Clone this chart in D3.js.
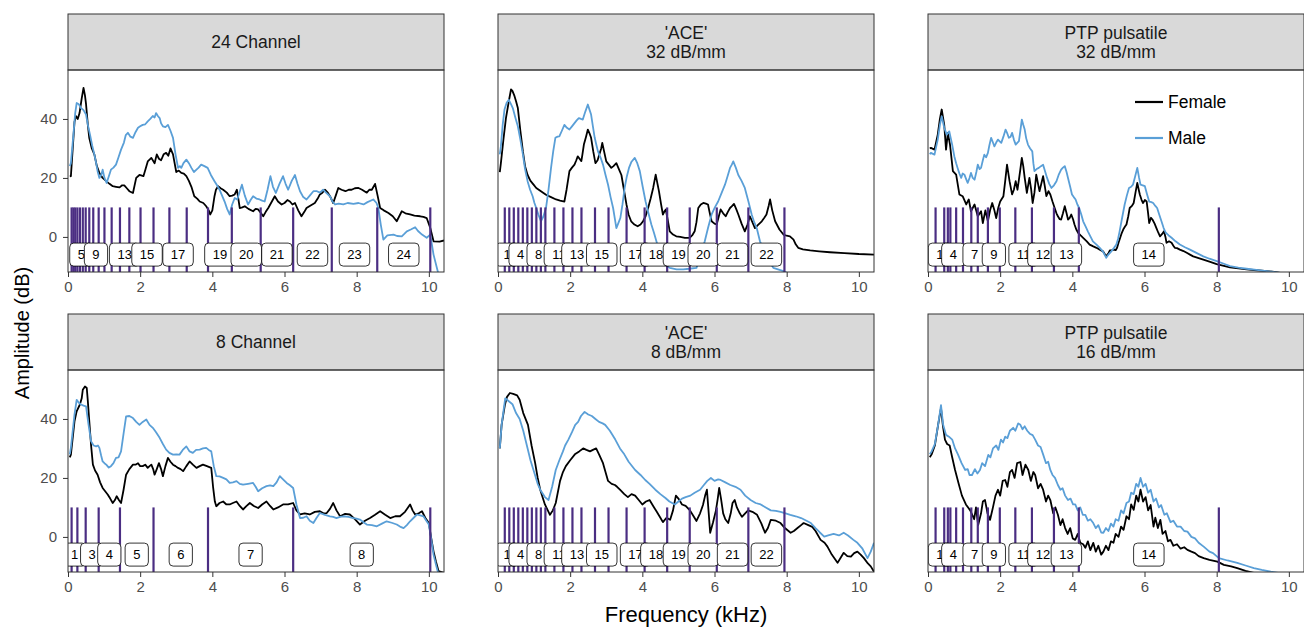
<!DOCTYPE html>
<html>
<head>
<meta charset="utf-8">
<script src="https://cdn.jsdelivr.net/npm/d3@7"></script>
<style>
body { margin: 0; background: #fff; }
text { font-family: "Liberation Sans", Arial, sans-serif; }
</style>
</head>
<body>
<svg id="chart" width="1304" height="627"></svg>
<script>
// ---- data: [frequency kHz, amplitude dB] ----
var ch24Female = [[0.05,20.5],[0.08,20.6],[0.18,39],[0.22,41],[0.27,40],[0.32,42],[0.38,47],[0.43,50.5],[0.47,48],[0.5,45],[0.55,38],[0.59,33.5],[0.66,30],[0.73,28],[0.8,24],[0.87,21.7],[0.96,20],[1.06,18.9],[1.15,18],[1.24,17.2],[1.33,17],[1.43,16.8],[1.5,17.5],[1.56,17.5],[1.63,16.5],[1.7,15.5],[1.8,14.9],[1.89,20],[1.98,21],[2.09,20.6],[2.15,23],[2.21,25.6],[2.31,26.8],[2.4,25],[2.46,28],[2.52,26.5],[2.58,26],[2.65,28],[2.72,28.5],[2.78,27.5],[2.84,30],[2.91,28],[3.0,22],[3.07,22.5],[3.14,21.7],[3.21,21.5],[3.28,20.6],[3.35,19],[3.42,17],[3.5,13.8],[3.58,13],[3.65,12],[3.75,11.5],[3.83,10.4],[3.9,9],[3.94,7.6],[4.0,9],[4.06,13.8],[4.1,16],[4.16,17.2],[4.23,16.5],[4.3,16],[4.4,15],[4.48,13.8],[4.55,14],[4.62,14.4],[4.68,16],[4.72,13],[4.76,9.8],[4.83,10],[4.9,10.4],[5.0,9.5],[5.13,8.7],[5.2,9.5],[5.27,9.3],[5.35,8],[5.41,7],[5.48,8.5],[5.55,9.8],[5.65,12],[5.73,13.8],[5.82,12],[5.92,11],[6.0,11.5],[6.08,12.5],[6.15,12],[6.22,11],[6.29,11.5],[6.38,9],[6.47,7],[6.55,8.5],[6.61,9.8],[6.7,10.5],[6.84,11.5],[6.92,13],[6.98,14.4],[7.05,15],[7.12,16],[7.2,15],[7.26,13.8],[7.35,11.5],[7.42,14],[7.49,16.6],[7.58,16],[7.69,15.5],[7.78,16],[7.86,16],[7.95,16.5],[8.05,16.6],[8.15,16],[8.28,15],[8.35,16],[8.42,16],[8.51,18],[8.58,14],[8.65,9.8],[8.75,9],[8.88,8.1],[9.0,7],[9.11,5.3],[9.18,7],[9.25,8.7],[9.35,8],[9.48,7.6],[9.6,7.2],[9.76,7],[9.85,6.8],[9.94,6.4],[10.04,3],[10.13,-1.5],[10.3,-1.6],[10.42,-1.2]];
var ch24Male = [[0.05,24],[0.08,25],[0.15,34.7],[0.2,42],[0.24,45.4],[0.3,45],[0.36,43.7],[0.43,43],[0.5,41.5],[0.55,38],[0.61,34.7],[0.67,31],[0.73,28],[0.78,25],[0.82,22.3],[0.87,20],[0.92,21],[0.96,22.8],[1.01,20],[1.07,18.3],[1.13,20.5],[1.19,22.8],[1.26,23.5],[1.33,24.5],[1.4,27],[1.47,29.6],[1.55,32],[1.6,34.5],[1.66,35.3],[1.73,34],[1.8,33.6],[1.87,35.5],[1.94,37],[2.0,37.5],[2.07,38],[2.14,38.2],[2.21,39.2],[2.28,40],[2.35,41],[2.4,40.5],[2.44,42],[2.49,41],[2.54,40.3],[2.58,38.5],[2.63,37.5],[2.7,37.2],[2.77,38],[2.84,36],[2.91,33.6],[2.98,28],[3.05,23.4],[3.1,24],[3.14,23.4],[3.2,25],[3.28,26.2],[3.35,25],[3.42,23.4],[3.49,22],[3.56,22.8],[3.62,23.5],[3.69,24.5],[3.78,24],[3.87,23.4],[3.96,21],[4.06,18.9],[4.13,17.5],[4.2,16],[4.27,14],[4.34,12],[4.41,9.5],[4.48,7.6],[4.55,11],[4.62,13.2],[4.69,12.7],[4.75,15],[4.82,17.7],[4.9,14],[4.99,11],[5.06,12.5],[5.13,13.8],[5.22,13],[5.31,12.7],[5.38,12.3],[5.45,12],[5.53,16],[5.61,20.6],[5.68,17],[5.76,14.9],[5.86,18],[5.96,20.6],[6.03,18],[6.1,16],[6.2,19],[6.29,21],[6.36,18],[6.43,15.5],[6.52,13.5],[6.61,12.7],[6.7,14],[6.8,15.5],[6.9,15.5],[6.98,15],[7.07,16],[7.15,15],[7.26,13.8],[7.33,12],[7.4,11],[7.5,11.3],[7.63,11],[7.75,11.5],[7.91,11.2],[8.05,11.5],[8.19,11],[8.3,11.8],[8.46,12.7],[8.55,11.5],[8.6,9.8],[8.67,4],[8.74,-0.9],[8.85,0.5],[9.02,0.8],[9.12,0.3],[9.25,0.2],[9.32,1],[9.39,1.9],[9.5,2.5],[9.62,3.3],[9.7,2],[9.81,0.8],[9.94,-0.3],[10.04,0.8],[10.13,-6],[10.27,-12.8]];

var ace32Female = [[0.05,22],[0.08,25],[0.15,33],[0.22,40.3],[0.3,46],[0.36,50],[0.4,49.5],[0.45,48],[0.5,46],[0.55,43.7],[0.62,36],[0.69,29],[0.75,24],[0.82,21],[0.9,19],[0.98,17.8],[1.06,16.6],[1.2,15.4],[1.33,14.3],[1.47,13.5],[1.61,12.7],[1.72,12.3],[1.84,12],[1.9,16],[1.98,22.3],[2.05,23.5],[2.12,24.5],[2.17,26],[2.21,27.3],[2.26,26.5],[2.31,25.7],[2.34,28],[2.38,31.3],[2.44,34],[2.49,36.4],[2.54,35],[2.58,33.6],[2.64,29],[2.7,25],[2.76,26],[2.81,28],[2.86,30],[2.89,31.9],[2.94,29],[3.0,25.6],[3.07,24.5],[3.14,23.4],[3.2,24],[3.28,25],[3.35,23],[3.42,21],[3.49,16],[3.56,11],[3.62,7.5],[3.69,5.3],[3.78,4.2],[3.87,3.6],[3.95,4.2],[4.02,5.3],[4.09,7],[4.16,9.8],[4.23,13],[4.3,16.6],[4.37,21.1],[4.42,18],[4.46,15.5],[4.52,11],[4.57,7.6],[4.62,8.8],[4.65,9.3],[4.7,6],[4.76,1.9],[4.85,0.8],[4.94,0.2],[5.05,0],[5.18,-0.3],[5.31,-0.3],[5.38,0.5],[5.45,1.9],[5.5,5],[5.55,9.8],[5.62,11],[5.69,11.5],[5.76,11.3],[5.82,11],[5.87,8],[5.92,5.3],[6.0,4.5],[6.06,4.2],[6.12,7],[6.17,9.3],[6.24,8],[6.31,7],[6.37,8.5],[6.43,9.8],[6.49,10.5],[6.54,11.2],[6.6,9.5],[6.66,7.6],[6.75,4.5],[6.84,1.9],[6.91,4],[6.98,7],[7.05,5],[7.12,3],[7.2,4],[7.31,5.3],[7.38,6.5],[7.44,7.6],[7.5,10.5],[7.54,12.7],[7.6,9],[7.68,5.3],[7.8,2.5],[7.91,0.8],[8.0,0.4],[8.09,0.2],[8.19,-0.9],[8.25,-2.5],[8.32,-3.7],[8.45,-4.2],[8.65,-4.6],[8.9,-4.9],[9.2,-5.2],[9.6,-5.5],[10.0,-5.8],[10.42,-6]];
var ace32Male = [[0.05,28],[0.08,30.7],[0.13,38],[0.18,43.2],[0.24,45.5],[0.3,46.5],[0.36,45],[0.41,43.7],[0.48,40.5],[0.55,37.5],[0.62,33],[0.69,28],[0.75,23],[0.82,18.9],[0.89,16],[0.96,13.8],[1.01,11.5],[1.06,9.8],[1.12,7.5],[1.19,5.3],[1.26,7],[1.33,9.8],[1.4,16],[1.47,23.4],[1.53,29],[1.59,33.6],[1.65,34],[1.7,34.1],[1.77,36],[1.84,38],[1.91,37],[1.98,36.4],[2.05,37.5],[2.12,38.6],[2.18,39.5],[2.24,40.3],[2.3,40],[2.35,39.8],[2.42,42.5],[2.49,44.9],[2.54,43],[2.58,41.5],[2.63,37.5],[2.68,33.6],[2.73,31],[2.77,29],[2.84,27],[2.91,24.5],[2.98,21],[3.05,17.7],[3.12,13.5],[3.19,9.8],[3.24,6],[3.28,3],[3.33,4.5],[3.39,6.4],[3.45,11],[3.51,16.6],[3.57,20.5],[3.63,23.4],[3.7,25.5],[3.79,26.8],[3.86,25],[3.93,22.3],[4.01,17],[4.09,12],[4.17,8],[4.25,4.2],[4.32,1.5],[4.39,-1.5],[4.46,-4.5],[4.53,-7],[4.65,-9.5],[4.76,-10.5],[4.95,-11],[5.13,-11],[5.3,-10.8],[5.5,-10.5],[5.62,-6],[5.73,-1.5],[5.82,3],[5.92,7.6],[6.01,10],[6.1,12],[6.2,15],[6.29,17.7],[6.36,20.5],[6.43,23.4],[6.48,24.5],[6.52,25.6],[6.59,23.5],[6.66,21],[6.75,19],[6.84,16.6],[6.94,12],[7.03,7.6],[7.1,5],[7.17,3],[7.26,-1.5],[7.35,-4],[7.44,-6],[7.53,-8.5],[7.63,-10.5],[7.91,-11.6],[8.09,-12.7],[8.3,-13]];

var ptp32Female = [[0.05,30],[0.08,30.2],[0.18,29.6],[0.27,34.7],[0.33,40],[0.38,43.2],[0.45,38],[0.5,29.6],[0.55,35.3],[0.61,31.3],[0.69,22.3],[0.78,21.1],[0.87,14.4],[0.96,13.8],[1.06,11],[1.13,12.7],[1.19,8.7],[1.29,11],[1.38,7],[1.47,8.7],[1.52,4.7],[1.59,9],[1.66,5.3],[1.72,9],[1.78,11.5],[1.84,9],[1.89,6.4],[1.95,10],[2.0,12],[2.09,13.8],[2.14,19],[2.19,24.5],[2.26,18.9],[2.33,14.4],[2.38,16],[2.43,18.9],[2.48,16],[2.52,19.4],[2.56,23],[2.6,26.8],[2.64,24],[2.68,20],[2.74,14.9],[2.81,20],[2.86,16],[2.9,11.5],[2.95,15],[3.0,21.1],[3.05,18],[3.09,15.5],[3.14,18],[3.19,20.6],[3.24,17],[3.28,13.8],[3.34,15.5],[3.39,14.4],[3.45,12],[3.51,9.8],[3.56,8],[3.6,7],[3.65,6],[3.69,5.9],[3.74,8],[3.79,10.4],[3.84,8],[3.88,5.9],[3.93,6.5],[3.97,7.6],[4.02,6],[4.06,4.2],[4.11,2.5],[4.16,1.4],[4.23,0.5],[4.3,-0.3],[4.4,-1.5],[4.48,-2.6],[4.58,-3.2],[4.67,-3.7],[4.76,-4.3],[4.85,-4.9],[4.94,-6.6],[5.0,-5.5],[5.04,-4.6],[5.1,-4.5],[5.15,-4.3],[5.2,-4.5],[5.24,-3.7],[5.28,-2],[5.31,-0.9],[5.36,1],[5.41,2.5],[5.46,3.5],[5.5,4.2],[5.55,7],[5.59,9.8],[5.65,10.5],[5.7,11.5],[5.75,15],[5.8,18.3],[5.84,16],[5.87,14.4],[5.92,12.5],[5.96,11.5],[6.01,12.5],[6.06,12],[6.1,8],[6.13,4.7],[6.18,6.5],[6.22,5.9],[6.28,4.5],[6.33,3],[6.38,1.5],[6.43,0.2],[6.49,1],[6.54,1.9],[6.58,0],[6.61,-2],[6.68,-1.5],[6.75,-2],[6.8,-3],[6.84,-3.7],[6.9,-3.8],[6.98,-4.3],[7.08,-4.8],[7.17,-5.4],[7.26,-6],[7.35,-6.6],[7.5,-7.2],[7.63,-7.7],[7.8,-8.4],[8.0,-9.2],[8.2,-9.8],[8.37,-10.3],[8.6,-10.7],[8.83,-11],[9.1,-11.3],[9.39,-11.6],[9.6,-11.9],[9.76,-12.2],[10.1,-12.8],[10.42,-13.2]];
var ptp32Male = [[0.05,28],[0.08,28.5],[0.18,27.9],[0.27,33],[0.33,38],[0.38,40.9],[0.45,37],[0.52,34.7],[0.59,35.8],[0.67,31.3],[0.73,27.3],[0.78,25],[0.82,23.4],[0.87,21.5],[0.92,20],[0.96,21.5],[1.01,21.1],[1.06,19.5],[1.1,18.3],[1.15,20],[1.19,21.7],[1.24,20],[1.29,19.4],[1.34,22],[1.38,24.5],[1.43,23],[1.47,23.4],[1.52,26],[1.56,27.9],[1.61,27],[1.66,28.5],[1.7,31],[1.75,33.6],[1.8,32],[1.84,30.7],[1.89,32],[1.94,33],[1.98,32.5],[2.03,31.9],[2.09,34],[2.15,36.4],[2.2,35],[2.24,33.6],[2.29,34],[2.33,35.3],[2.38,33],[2.43,31.3],[2.48,32],[2.52,32.5],[2.56,36],[2.6,39.8],[2.64,38],[2.68,36.4],[2.72,33.5],[2.77,31.3],[2.83,30],[2.89,29],[2.92,25],[2.95,22.3],[3.01,23],[3.07,23.4],[3.13,24],[3.19,24.5],[3.25,22],[3.3,20],[3.36,18],[3.42,16.6],[3.49,17.5],[3.56,18.9],[3.62,21],[3.69,22.8],[3.74,23.5],[3.79,24],[3.84,22],[3.88,20],[3.94,17],[3.99,14.4],[4.04,13.5],[4.09,12.7],[4.14,11],[4.19,9.8],[4.25,7.5],[4.3,5.3],[4.37,3.5],[4.43,1.9],[4.5,0.2],[4.57,-1.5],[4.67,-2.6],[4.76,-3.7],[4.85,-5],[4.94,-7.1],[5.0,-6],[5.08,-4.9],[5.15,-3.8],[5.22,-2.6],[5.27,-0.5],[5.31,1.9],[5.38,6.5],[5.45,11],[5.51,14],[5.57,16.6],[5.63,17],[5.68,17.7],[5.74,20.5],[5.8,23.4],[5.85,20],[5.89,17.7],[5.95,17.5],[6.01,17.2],[6.07,14.5],[6.13,12],[6.19,11.8],[6.24,11.5],[6.3,10.5],[6.35,9.8],[6.41,7.5],[6.47,5.3],[6.53,3],[6.59,1.4],[6.67,0.5],[6.75,-0.3],[6.86,-1.5],[6.98,-2.6],[7.12,-3.5],[7.26,-4.3],[7.45,-5.5],[7.63,-6.6],[7.8,-7.4],[8.0,-8.2],[8.2,-9.1],[8.37,-9.9],[8.6,-10.4],[8.83,-10.8],[9.1,-11.2],[9.39,-11.6],[9.7,-12.1],[9.94,-12.5],[10.3,-13.3]];

var ch8Female = [[0.05,27],[0.08,27.9],[0.18,39.2],[0.24,42.6],[0.33,44.9],[0.38,47],[0.41,49.9],[0.47,51],[0.52,50.5],[0.55,46],[0.59,39.2],[0.64,31],[0.69,24.5],[0.75,22.5],[0.82,21.1],[0.89,18.5],[0.96,16.6],[1.03,15.5],[1.1,14.4],[1.17,13],[1.24,11.5],[1.3,12.5],[1.35,13.8],[1.41,12.5],[1.47,11.5],[1.54,16],[1.61,21.1],[1.7,23],[1.8,24.5],[1.87,24.5],[1.94,25],[2.0,24],[2.07,24],[2.14,24.5],[2.21,23.4],[2.26,24],[2.31,24.5],[2.36,23],[2.4,21.1],[2.46,23],[2.52,25],[2.58,23],[2.63,20.6],[2.7,24],[2.77,26.8],[2.84,25.5],[2.91,24.5],[2.98,24],[3.05,23.4],[3.12,23],[3.19,22.3],[3.28,24],[3.37,25.6],[3.46,24.5],[3.56,23.4],[3.65,24],[3.74,24.5],[3.85,24],[3.97,23.4],[4.02,17],[4.07,12],[4.11,10.4],[4.2,11.5],[4.3,12],[4.39,11],[4.48,11],[4.57,11.5],[4.67,12],[4.76,10.5],[4.85,9.3],[4.95,10.5],[5.04,11.5],[5.15,10.5],[5.27,9.8],[5.38,11],[5.5,12],[5.6,10.5],[5.69,9.3],[5.82,10],[5.96,11],[6.1,11],[6.24,11.5],[6.33,9],[6.43,7.6],[6.56,8],[6.7,7.6],[6.84,8.5],[6.98,8.7],[7.08,8],[7.17,8.1],[7.26,9.5],[7.35,11.5],[7.44,9],[7.54,7],[7.68,7.8],[7.81,7.6],[7.95,6],[8.09,4.2],[8.23,5.5],[8.37,6.4],[8.51,7.5],[8.65,8.7],[8.79,7.5],[8.93,6.4],[9.07,7],[9.2,7],[9.34,8.5],[9.48,11],[9.55,9],[9.62,7.6],[9.72,8],[9.81,8.7],[9.9,6.5],[10.0,4.7],[10.06,0],[10.13,-4.9],[10.2,-8.5],[10.27,-11.6],[10.42,-12.2]];
var ch8Male = [[0.05,28],[0.08,30.2],[0.18,41.5],[0.24,46.5],[0.3,45.5],[0.36,44.9],[0.43,44.5],[0.5,44.3],[0.57,38],[0.64,32.4],[0.71,31],[0.78,30.7],[0.83,31],[0.87,30.2],[0.92,27.5],[0.96,25.6],[1.01,25],[1.06,24.5],[1.13,23.5],[1.19,24],[1.26,25],[1.33,26.8],[1.4,27],[1.47,29],[1.54,35],[1.61,40.9],[1.7,41],[1.8,40.3],[1.89,39],[1.98,38],[2.07,39],[2.17,39.8],[2.26,38],[2.35,37],[2.44,35.5],[2.54,33.6],[2.63,31.5],[2.72,29.6],[2.81,28.5],[2.91,27.9],[3.0,28],[3.09,27.9],[3.18,29.5],[3.28,30.7],[3.37,29],[3.46,28.5],[3.55,29.5],[3.65,29.6],[3.74,30],[3.83,30.2],[3.9,29.5],[3.97,29],[4.04,24],[4.11,20.6],[4.2,20.5],[4.3,20],[4.39,19.5],[4.48,18.3],[4.57,18.5],[4.67,18.9],[4.76,18],[4.85,17.7],[4.99,18],[5.13,18.3],[5.2,17],[5.27,15.5],[5.38,16.5],[5.5,17.2],[5.6,17.5],[5.69,17.2],[5.78,18.5],[5.87,20.6],[5.96,19.5],[6.06,18.3],[6.15,17.5],[6.24,16.6],[6.33,11],[6.43,6.4],[6.52,6.5],[6.61,7],[6.7,5.5],[6.8,4.7],[6.89,6.5],[6.98,8.1],[7.12,7.5],[7.26,7],[7.35,6.8],[7.44,6.4],[7.54,6.8],[7.63,7],[7.77,6.8],[7.91,6.4],[8.0,6.2],[8.09,5.9],[8.19,5],[8.28,4.2],[8.42,4],[8.56,3.6],[8.7,4.5],[8.83,5.3],[8.97,4.8],[9.11,4.2],[9.2,3.5],[9.3,3],[9.39,4],[9.48,5.3],[9.58,6.5],[9.67,7.6],[9.76,7.3],[9.85,7],[9.93,5.5],[10.0,4.2],[10.07,-1],[10.13,-6],[10.2,-9.5],[10.27,-12.8]];

var ace8Female = [[0.05,30],[0.1,38],[0.19,44.7],[0.25,47.5],[0.33,48.8],[0.42,48.5],[0.53,48],[0.6,46.5],[0.7,42],[0.83,38],[0.93,31],[1.03,25],[1.1,20],[1.17,16],[1.3,11],[1.38,9],[1.44,7.5],[1.52,9],[1.6,11.5],[1.72,19],[1.8,22],[1.88,24],[2.0,26],[2.13,28],[2.25,29],[2.36,30],[2.45,29.5],[2.55,29],[2.63,29.5],[2.72,30],[2.8,28],[2.91,25],[3.05,19],[3.15,18],[3.24,17.6],[3.3,17],[3.38,16],[3.5,14.5],[3.6,13.5],[3.7,14.5],[3.8,14],[3.9,12.5],[4.0,11],[4.1,12],[4.2,12.5],[4.3,10.5],[4.4,8.5],[4.5,6.5],[4.57,5],[4.67,6.5],[4.77,5.8],[4.85,9],[4.93,14],[5.0,13],[5.1,11],[5.2,10.5],[5.32,9],[5.42,7],[5.5,5.4],[5.6,8],[5.68,10.8],[5.74,14],[5.79,16],[5.84,8],[5.88,1.4],[5.96,5],[6.04,9],[6.09,13],[6.13,16.6],[6.18,13],[6.24,8],[6.3,6],[6.38,4.7],[6.45,8],[6.5,11.5],[6.56,12.5],[6.62,10],[6.7,8],[6.76,6.8],[6.85,8],[6.93,9],[7.05,8.5],[7.18,7.5],[7.3,4.5],[7.4,1.4],[7.48,3],[7.56,5.8],[7.7,5.5],[7.83,4.7],[7.95,3],[8.11,1.4],[8.2,2],[8.3,3],[8.4,4],[8.47,4.7],[8.6,4],[8.71,3.4],[8.8,2],[8.94,-1],[9.05,-2],[9.13,-3.3],[9.25,-6],[9.41,-8.8],[9.5,-7],[9.58,-5.4],[9.68,-6.5],[9.78,-6.7],[9.87,-5.5],[9.96,-5],[10.05,-6],[10.14,-7.2],[10.25,-9],[10.33,-10],[10.42,-11.8]];
var ace8Male = [[0.05,30],[0.1,38],[0.2,47],[0.3,46],[0.4,45],[0.5,42],[0.6,40],[0.7,36],[0.8,31],[0.9,26],[1.0,22],[1.1,18],[1.17,16],[1.3,13.5],[1.4,12.5],[1.5,17],[1.6,22.7],[1.7,26],[1.8,29],[1.86,31],[1.95,33],[2.05,35.5],[2.14,38],[2.22,39],[2.3,41],[2.4,42.4],[2.5,41.5],[2.6,41],[2.7,40],[2.8,39],[2.9,38.5],[2.97,38],[3.1,36],[3.25,33],[3.38,30],[3.5,28],[3.62,25.5],[3.8,22.7],[3.95,21],[4.08,19.3],[4.2,18],[4.36,16],[4.5,14.5],[4.64,13.2],[4.75,12],[4.9,11],[5.0,12],[5.1,13],[5.2,13.5],[5.33,14],[5.45,15],[5.6,16],[5.7,17.5],[5.8,19],[5.9,20],[6.0,19],[6.1,19.5],[6.17,19.3],[6.3,18.5],[6.44,17.6],[6.58,17],[6.72,16],[6.85,14],[7.0,12.5],[7.14,11.5],[7.28,11],[7.42,10],[7.56,9],[7.7,8.8],[7.83,8.5],[7.97,8],[8.1,7.5],[8.25,7],[8.4,6.4],[8.55,5.5],[8.67,4.7],[8.8,3],[8.92,1.5],[9.04,0.1],[9.15,0.5],[9.3,1],[9.45,0.5],[9.58,1.4],[9.7,0.5],[9.85,-1],[9.96,-2],[10.1,-4],[10.24,-7.2],[10.33,-5],[10.42,-2]];

var ptp16Female = [[0.05,27],[0.1,28],[0.19,31],[0.28,38],[0.36,43.7],[0.41,38],[0.47,33],[0.53,31.5],[0.6,31],[0.67,27],[0.75,22.7],[0.85,18],[0.94,14],[1.05,11],[1.17,9],[1.28,6],[1.33,10],[1.39,4],[1.47,8],[1.52,12],[1.58,12.5],[1.65,8],[1.72,5.8],[1.8,10],[1.87,14],[1.94,16],[2.0,14],[2.07,19],[2.14,19.3],[2.2,17],[2.27,22],[2.33,22.7],[2.4,20],[2.47,25],[2.56,25.4],[2.62,21],[2.7,24.5],[2.78,22.7],[2.85,19],[2.92,22],[2.97,21],[3.05,16.5],[3.12,18],[3.19,16],[3.27,12],[3.33,14],[3.39,12.5],[3.47,8],[3.53,10],[3.6,7.5],[3.67,4],[3.73,6],[3.8,3],[3.87,1],[3.94,3],[4.01,-0.5],[4.08,-1],[4.15,1],[4.22,-2],[4.3,-2.5],[4.36,-3.7],[4.43,-1.5],[4.5,-4.5],[4.58,-2],[4.65,-5],[4.72,-3],[4.8,-6],[4.86,-5],[4.93,-3],[5.0,-4.5],[5.07,-1.5],[5.14,-2],[5.2,1],[5.28,0],[5.35,3.5],[5.42,2.4],[5.5,7],[5.57,6],[5.63,11],[5.7,9.2],[5.77,14],[5.83,12],[5.89,16],[5.96,12],[6.03,13.5],[6.1,9],[6.17,10.8],[6.25,3.5],[6.3,6.5],[6.37,3],[6.44,5.8],[6.5,1],[6.58,2],[6.65,-1.5],[6.72,-1],[6.8,-3],[6.9,-2.5],[7.0,-4],[7.1,-3.5],[7.19,-4.4],[7.3,-5],[7.4,-5.5],[7.5,-6.5],[7.64,-7.2],[7.8,-7.8],[8.02,-8.4],[8.2,-9.5],[8.4,-10],[8.57,-10.6],[8.8,-11.5],[9.03,-12.2],[9.3,-13]];
var ptp16Male = [[0.05,28],[0.1,29],[0.19,31.5],[0.28,38],[0.36,44.7],[0.42,38],[0.5,34.6],[0.58,34],[0.67,33],[0.75,30],[0.83,28],[0.93,25],[1.03,22.7],[1.1,23],[1.15,21],[1.22,21],[1.3,23],[1.37,21.5],[1.44,22.7],[1.5,25],[1.58,24],[1.67,27.8],[1.73,27],[1.8,30],[1.89,31],[1.95,29.5],[2.02,33],[2.08,32],[2.14,34],[2.2,33.5],[2.27,36],[2.36,37],[2.42,36],[2.5,38.5],[2.56,38],[2.62,36.5],[2.68,37.5],[2.75,36],[2.82,35],[2.9,34.5],[2.97,33],[3.05,31],[3.12,30.5],[3.19,28],[3.27,25],[3.33,25.5],[3.39,22.7],[3.45,21],[3.52,20],[3.6,17.6],[3.67,16],[3.73,16.5],[3.8,14],[3.88,12.5],[3.95,13],[4.02,11],[4.08,11],[4.15,9],[4.22,10],[4.29,7.5],[4.36,7.5],[4.43,5.5],[4.5,6],[4.58,4.7],[4.65,3],[4.72,4],[4.8,1.5],[4.86,1.4],[4.93,3],[5.0,2],[5.07,4.5],[5.14,3.5],[5.2,6],[5.28,5.5],[5.35,9],[5.42,8],[5.5,11.5],[5.57,12],[5.63,15],[5.7,14.5],[5.77,18],[5.83,17],[5.89,20],[5.96,17],[6.03,18],[6.1,15],[6.17,16],[6.25,12],[6.32,13],[6.4,10],[6.46,10.8],[6.55,7.5],[6.62,8],[6.72,5],[6.8,5.5],[6.9,3.5],[7.0,3.5],[7.1,2],[7.19,1.8],[7.3,0],[7.4,-0.5],[7.5,-2],[7.64,-3.3],[7.8,-5],[7.9,-5.5],[8.06,-7.2],[8.3,-8],[8.57,-8.8],[8.8,-9.7],[9.03,-10.6],[9.25,-11.2],[9.5,-11.8],[9.75,-12.3],[9.96,-12.9]];

// channel boundaries (kHz) and which channel numbers get a label
var bounds24 = [0.10,0.15,0.20,0.26,0.33,0.41,0.49,0.59,0.70,0.85,1.01,1.21,1.44,1.70,2.01,2.37,2.81,3.29,3.88,4.54,5.34,6.24,7.31,8.57,10.04];
var bounds8 = [0.10,0.26,0.49,0.85,1.44,2.37,3.88,6.24,10.04];
var boundsAce = [0.188,0.313,0.438,0.563,0.688,0.813,0.938,1.063,1.188,1.313,1.563,1.813,2.063,2.313,2.688,3.063,3.563,4.063,4.688,5.313,6.063,6.938,7.938];
var boundsPtp = [0.21,0.45,0.55,0.62,0.78,0.97,1.20,1.38,1.66,1.99,2.42,2.88,3.49,4.18,8.06];
var labels24 = [5,9,13,15,17,19,20,21,22,23,24];
var labels8 = [1,3,4,5,6,7,8];
var labelsAce = [1,4,8,11,13,15,17,18,19,20,21,22];
var labelsPtp = [1,4,7,9,11,12,13,14];

var xTicks = [0, 2, 4, 6, 8, 10];
var yTicks = [0, 20, 40];

var panels = [
  {title: ["24 Channel"], female: ch24Female, male: ch24Male, bounds: bounds24, labels: labels24, row: 0, col: 0},
  {title: ["'ACE'", "32 dB/mm"], female: ace32Female, male: ace32Male, bounds: boundsAce, labels: labelsAce, row: 0, col: 1},
  {title: ["PTP pulsatile", "32 dB/mm"], female: ptp32Female, male: ptp32Male, bounds: boundsPtp, labels: labelsPtp, row: 0, col: 2},
  {title: ["8 Channel"], female: ch8Female, male: ch8Male, bounds: bounds8, labels: labels8, row: 1, col: 0},
  {title: ["'ACE'", "8 dB/mm"], female: ace8Female, male: ace8Male, bounds: boundsAce, labels: labelsAce, row: 1, col: 1},
  {title: ["PTP pulsatile", "16 dB/mm"], female: ptp16Female, male: ptp16Male, bounds: boundsPtp, labels: labelsPtp, row: 1, col: 2}
];

// ---- layout ----
var colLeft = [68, 498, 928], rowTop = [70, 370];
var pw = 376, ph = 202, stripH = 56;
var femaleCol = "#000000", maleCol = "#5A9FD7", chanCol = "#4B2E83";

var xScale = d3.scaleLinear().domain([0, 10.42]).range([0, pw]);
var yScale = d3.scaleLinear().domain([-11.9, 56.6]).range([ph, 0]);

var line = d3.line()
  .x(function(d) { return xScale(d[0]); })
  .y(function(d) { return yScale(d[1]); });

var svg = d3.select("#chart");
svg.append("rect").attr("width", 1304).attr("height", 627).attr("fill", "#fff");

panels.forEach(function(p, i) {
  var g = svg.append("g")
    .attr("transform", "translate(" + colLeft[p.col] + "," + rowTop[p.row] + ")");

  // strip
  g.append("rect")
    .attr("x", 0).attr("y", -stripH)
    .attr("width", pw).attr("height", stripH)
    .attr("fill", "#D9D9D9").attr("stroke", "#333").attr("stroke-width", 1);
  var n = p.title.length;
  p.title.forEach(function(t, j) {
    g.append("text")
      .attr("x", pw / 2)
      .attr("y", -stripH / 2 + (j - (n - 1) / 2) * 19)
      .attr("dy", "0.35em")
      .attr("text-anchor", "middle")
      .attr("font-size", 17.5)
      .attr("fill", "#1A1A1A")
      .text(t);
  });

  var clipId = "clip" + i;
  g.append("clipPath").attr("id", clipId)
    .append("rect").attr("width", pw).attr("height", ph);
  var plot = g.append("g").attr("clip-path", "url(#" + clipId + ")");

  // spectra
  plot.append("path").datum(p.female)
    .attr("fill", "none").attr("stroke", femaleCol).attr("stroke-width", 1.8)
    .attr("stroke-linejoin", "round").attr("d", line);
  plot.append("path").datum(p.male)
    .attr("fill", "none").attr("stroke", maleCol).attr("stroke-width", 1.8)
    .attr("stroke-linejoin", "round").attr("d", line);

  // channel boundaries
  plot.selectAll(".chan").data(p.bounds).enter().append("line")
    .attr("x1", function(d) { return xScale(d); })
    .attr("x2", function(d) { return xScale(d); })
    .attr("y1", yScale(10)).attr("y2", ph)
    .attr("stroke", chanCol).attr("stroke-width", 2.2);

  // channel labels
  p.labels.forEach(function(k) {
    var mid = (p.bounds[k - 1] + p.bounds[k]) / 2;
    var lg = plot.append("g")
      .attr("transform", "translate(" + xScale(mid) + "," + yScale(-6) + ")");
    var box = lg.append("rect");
    var txt = lg.append("text")
      .attr("text-anchor", "middle").attr("dy", "0.35em")
      .attr("font-size", 13).attr("fill", "#000")
      .text(k);
    var tw = txt.node().getComputedTextLength();
    box.attr("x", -tw / 2 - 8).attr("y", -11.5)
      .attr("width", tw + 16).attr("height", 23)
      .attr("rx", 4).attr("ry", 4)
      .attr("fill", "#fff").attr("stroke", "#000").attr("stroke-width", 0.8);
  });

  // panel border
  g.append("rect").attr("width", pw).attr("height", ph)
    .attr("fill", "none").attr("stroke", "#333").attr("stroke-width", 1);

  // x axis
  var xa = g.append("g").attr("transform", "translate(0," + ph + ")")
    .call(d3.axisBottom(xScale).tickValues(xTicks).tickSize(5).tickPadding(4).tickFormat(d3.format("d")));
  xa.select(".domain").remove();
  xa.selectAll("line").attr("stroke", "#333");
  xa.selectAll("text").attr("font-size", 15).attr("fill", "#4D4D4D")
    .style("font-family", "Liberation Sans, Arial, sans-serif");

  if (p.col === 0) {
    var ya = g.append("g")
      .call(d3.axisLeft(yScale).tickValues(yTicks).tickSize(5).tickPadding(6).tickFormat(d3.format("d")));
    ya.select(".domain").remove();
    ya.selectAll("line").attr("stroke", "#333");
    ya.selectAll("text").attr("font-size", 15).attr("fill", "#4D4D4D")
      .style("font-family", "Liberation Sans, Arial, sans-serif");
  }

  // legend inside the top-right panel
  if (p.row === 0 && p.col === 2) {
    var leg = g.append("g").attr("transform", "translate(207,32)");
    [["Female", femaleCol], ["Male", maleCol]].forEach(function(e, j) {
      leg.append("line")
        .attr("x1", 0).attr("x2", 28).attr("y1", j * 36).attr("y2", j * 36)
        .attr("stroke", e[1]).attr("stroke-width", 2.2);
      leg.append("text")
        .attr("x", 33).attr("y", j * 36).attr("dy", "0.35em")
        .attr("font-size", 17.5).attr("fill", "#000").text(e[0]);
    });
  }
});

// axis titles
svg.append("text")
  .attr("x", (colLeft[0] + colLeft[2] + pw) / 2).attr("y", 622)
  .attr("text-anchor", "middle").attr("font-size", 22).attr("fill", "#000")
  .text("Frequency (kHz)");
svg.append("text")
  .attr("transform", "translate(22,333) rotate(-90)")
  .attr("text-anchor", "middle").attr("dy", "0.35em").attr("font-size", 20).attr("fill", "#000")
  .text("Amplitude (dB)");
</script>
</body>
</html>
